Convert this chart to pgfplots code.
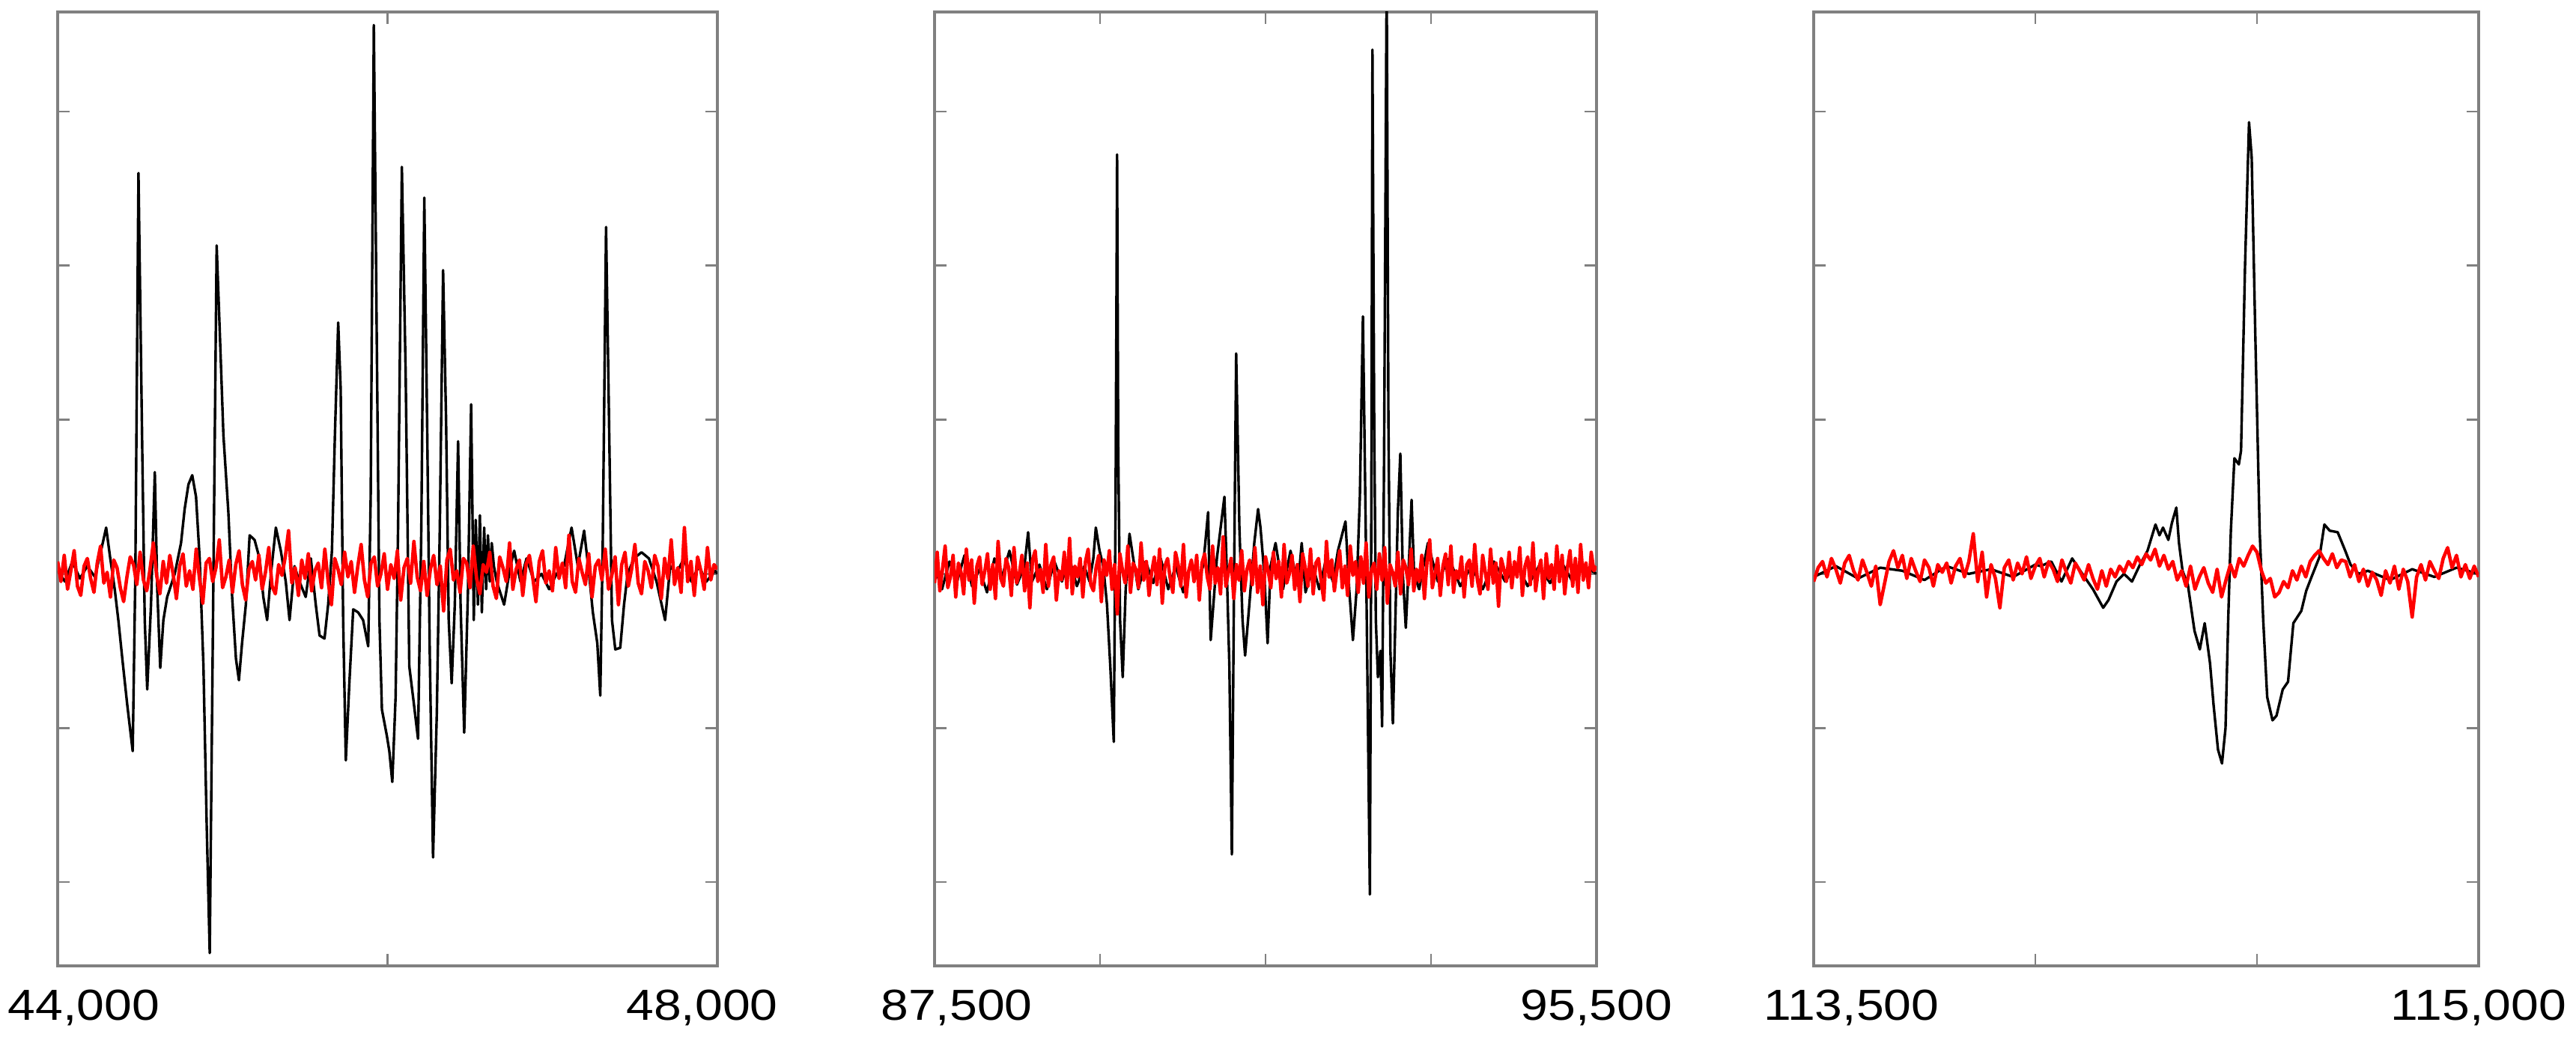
\documentclass[border=0pt]{standalone}
\usepackage{fontspec}
\setmainfont{Liberation Sans}
\usepackage{graphicx}
\usepackage{pgfplots}
\pgfplotsset{compat=1.18}
\definecolor{sigred}{RGB}{255,0,0}
\definecolor{framegray}{RGB}{128,128,128}
\pgfplotsset{
  panel/.style={
    scale only axis,
    width=#1, height=318.5pt,
    anchor=south west,
    ymin=-2.543, ymax=3.645,
    ytick={-2,-1,0,1,2,3},
    yticklabels={},
    xticklabels={},
    scaled x ticks=false,
    tick align=inside,
    major tick length=4pt,
    axis line style={framegray, line width=0.9pt},
    every tick/.style={framegray, line width=0.6pt},
    xticklabel style={font=\fontsize{14.5}{17}\selectfont, anchor=base, yshift=-18.25pt, text=black},
    extra x tick style={major tick length=0pt, tick style={draw=none}},
  },
  blk/.style={black, line width=0.85pt, line join=round},
  rd/.style={sigred, line width=1.15pt, line join=round},
}
\begin{document}
\begin{tikzpicture}
\useasboundingbox (0,0) rectangle (860pt,347.25pt);
% ---------------- Panel 1 ----------------
\begin{axis}[panel=220.25pt, at={(19.25pt,24.75pt)},
  xmin=44000, xmax=48000, xtick={44000,46000,48000},
  extra x ticks={44159,47907},
  extra x tick labels={\scalebox{1.14}[1]{44,000},\scalebox{1.14}[1]{48,000}}]
\addplot[blk] coordinates {(44000,0.02)(44044,-0.05)(44089,0.08)(44135,-0.03)(44180,0.05)(44226,-0.02)(44263,0.15)(44294,0.30)(44319,0.10)(44346,-0.10)(44369,-0.31)(44392,-0.55)(44422,-0.85)(44455,-1.15)(44471,0.00)(44490,2.60)(44513,0.80)(44528,-0.30)(44543,-0.75)(44566,-0.20)(44589,0.66)(44604,-0.10)(44622,-0.61)(44641,-0.30)(44664,-0.15)(44710,0.00)(44748,0.20)(44770,0.42)(44793,0.58)(44816,0.64)(44839,0.50)(44861,0.10)(44884,-0.60)(44903,-1.60)(44922,-2.46)(44940,-0.50)(44964,2.13)(44982,1.60)(45005,0.90)(45035,0.40)(45058,-0.15)(45081,-0.55)(45099,-0.69)(45118,-0.45)(45141,-0.20)(45164,0.25)(45194,0.22)(45224,0.10)(45247,-0.15)(45270,-0.30)(45293,0.00)(45323,0.30)(45353,0.15)(45383,-0.05)(45406,-0.30)(45436,0.05)(45466,-0.05)(45504,-0.15)(45535,0.10)(45565,-0.20)(45588,-0.40)(45618,-0.42)(45640,-0.20)(45663,0.15)(45681,0.90)(45701,1.63)(45716,1.20)(45731,-0.30)(45747,-1.21)(45769,-0.70)(45792,-0.23)(45822,-0.25)(45852,-0.30)(45883,-0.47)(45898,0.50)(45917,3.56)(45935,1.50)(45951,-0.30)(45966,-0.88)(45996,-1.05)(46011,-1.15)(46029,-1.35)(46049,-0.80)(46064,0.30)(46087,2.64)(46110,1.30)(46132,-0.60)(46155,-0.80)(46185,-1.07)(46205,0.30)(46223,2.44)(46241,0.90)(46256,-0.50)(46276,-1.84)(46299,-0.90)(46317,0.30)(46337,1.97)(46355,1.00)(46371,-0.30)(46389,-0.71)(46408,-0.20)(46428,0.86)(46443,-0.20)(46465,-1.03)(46488,-0.10)(46507,1.10)(46523,-0.30)(46535,0.35)(46548,-0.20)(46560,0.38)(46572,-0.25)(46586,0.30)(46598,-0.10)(46609,0.25)(46620,-0.05)(46632,0.20)(46645,0.05)(46662,-0.05)(46707,-0.20)(46745,0.05)(46768,0.15)(46806,-0.05)(46843,0.10)(46889,-0.05)(46934,0.00)(46980,-0.10)(47025,0.00)(47070,0.05)(47116,0.30)(47154,0.05)(47192,0.28)(47222,0.00)(47245,-0.25)(47272,-0.45)(47290,-0.79)(47305,0.20)(47325,2.25)(47343,1.00)(47361,-0.30)(47381,-0.49)(47411,-0.48)(47434,-0.20)(47456,0.00)(47494,0.10)(47540,0.14)(47585,0.10)(47631,-0.05)(47683,-0.30)(47714,0.05)(47751,0.00)(47797,0.10)(47842,-0.05)(47888,0.05)(47933,-0.05)(47986,0.02)(48000,0.00)};
\addplot[rd] coordinates {(44000,0.08)(44020,-0.05)(44040,0.12)(44060,-0.10)(44080,0.02)(44100,0.15)(44120,-0.08)(44140,-0.14)(44160,0.05)(44180,0.10)(44200,-0.03)(44220,-0.12)(44240,0.07)(44260,0.18)(44280,-0.06)(44300,0.01)(44320,-0.15)(44340,0.09)(44360,0.04)(44380,-0.09)
(44400,-0.18)(44420,-0.02)(44440,0.11)(44460,0.06)(44480,-0.07)(44500,0.14)(44520,-0.04)(44540,-0.11)(44560,0.03)(44580,0.20)(44600,-0.01)(44620,-0.13)(44640,0.08)(44660,-0.06)(44680,0.12)(44700,0.00)(44720,-0.16)(44740,0.05)(44760,0.13)(44780,-0.08)
(44800,0.02)(44820,-0.10)(44840,0.16)(44860,-0.03)(44880,-0.19)(44900,0.07)(44920,0.10)(44940,-0.05)(44960,0.04)(44980,0.22)(45000,-0.09)(45020,-0.02)(45040,0.09)(45060,-0.12)(45080,0.06)(45100,0.15)(45120,-0.07)(45140,-0.17)(45160,0.03)(45180,0.08)
(45200,-0.04)(45220,0.12)(45240,-0.10)(45260,0.01)(45280,0.17)(45300,-0.08)(45320,-0.13)(45340,0.06)(45360,-0.01)(45380,0.11)(45400,0.28)(45420,-0.06)(45440,0.04)(45460,-0.14)(45480,0.09)(45500,-0.03)(45520,0.13)(45540,-0.11)(45560,0.02)(45580,0.07)
(45600,-0.09)(45620,0.16)(45640,-0.05)(45660,-0.20)(45680,0.10)(45700,0.03)(45720,-0.07)(45740,0.14)(45760,-0.02)(45780,0.08)(45800,-0.12)(45820,0.05)(45840,0.19)(45860,-0.04)(45880,-0.15)(45900,0.07)(45920,0.11)(45940,-0.08)(45960,0.00)(45980,0.13)
(46000,-0.10)(46020,0.06)(46040,-0.03)(46060,0.15)(46080,-0.17)(46100,0.04)(46120,0.10)(46140,-0.06)(46160,0.21)(46180,-0.02)(46200,-0.11)(46220,0.08)(46240,-0.14)(46260,0.03)(46280,0.12)(46300,-0.07)(46320,0.05)(46340,-0.24)(46360,0.09)(46380,0.16)
(46400,-0.04)(46420,0.02)(46440,-0.12)(46460,0.10)(46480,0.07)(46500,-0.09)(46520,0.18)(46540,-0.03)(46560,-0.13)(46580,0.06)(46600,0.01)(46620,0.14)(46640,-0.08)(46660,-0.16)(46680,0.11)(46700,0.04)(46720,-0.05)(46740,0.20)(46760,-0.10)(46780,0.03)
(46800,0.09)(46820,-0.14)(46840,0.06)(46860,0.12)(46880,-0.02)(46900,-0.18)(46920,0.08)(46940,0.15)(46960,-0.06)(46980,0.02)(47000,-0.11)(47020,0.17)(47040,-0.03)(47060,0.07)(47080,-0.09)(47100,0.25)(47120,-0.05)(47140,-0.12)(47160,0.10)(47180,0.01)
(47200,-0.07)(47220,0.13)(47240,-0.15)(47260,0.05)(47280,0.09)(47300,-0.04)(47320,0.16)(47340,-0.10)(47360,-0.01)(47380,0.11)(47400,-0.20)(47420,0.06)(47440,0.14)(47460,-0.08)(47480,0.03)(47500,0.19)(47520,-0.06)(47540,-0.13)(47560,0.08)(47580,0.02)
(47600,-0.09)(47620,0.12)(47640,0.05)(47660,-0.16)(47680,0.10)(47700,-0.03)(47720,0.22)(47740,-0.07)(47760,0.04)(47780,-0.12)(47800,0.30)(47820,-0.05)(47840,0.08)(47860,-0.14)(47880,0.11)(47900,0.02)(47920,-0.10)(47940,0.17)(47960,-0.04)(47980,0.06)(48000,0.03)};
\end{axis}
% ---------------- Panel 2 ----------------
\begin{axis}[panel=221pt, at={(312pt,24.75pt)},
  xmin=87500, xmax=95500, xtick={89500,91500,93500},
  extra x ticks={87767,95500},
  extra x tick labels={\scalebox{1.14}[1]{87,500},\scalebox{1.14}[1]{95,500}}]
\addplot[blk] coordinates {(87500,0.05)(87590,-0.10)(87681,0.08)(87772,-0.05)(87862,0.12)(87953,-0.08)(88043,0.03)(88134,-0.12)(88224,0.10)(88315,-0.02)(88405,0.15)(88496,-0.07)(88586,0.05)(88631,0.27)(88677,-0.05)(88767,0.06)(88858,-0.10)(88948,0.08)(89039,-0.05)(89129,0.10)(89220,-0.08)(89310,0.05)(89373,-0.05)(89419,0.10)(89449,0.30)(89494,0.15)(89539,0.05)(89584,-0.20)(89624,-0.60)(89666,-1.09)(89688,0.50)(89706,2.72)(89720,0.80)(89742,-0.30)(89774,-0.67)(89810,-0.10)(89856,0.26)(89901,0.10)(89962,-0.10)(90052,0.08)(90143,-0.06)(90233,0.10)(90324,-0.10)(90414,0.05)(90505,-0.12)(90595,0.07)(90686,-0.04)(90746,0.05)(90806,0.40)(90837,-0.43)(90912,0.10)(91003,0.50)(91033,0.00)(91063,-0.60)(91093,-1.82)(91117,-0.20)(91145,1.43)(91184,0.30)(91222,-0.30)(91253,-0.53)(91304,-0.20)(91364,0.20)(91410,0.42)(91439,0.30)(91485,0.00)(91525,-0.45)(91561,0.05)(91621,0.20)(91711,-0.10)(91802,0.15)(91892,-0.08)(91937,0.20)(91983,-0.12)(92073,0.05)(92149,-0.10)(92224,0.08)(92315,-0.05)(92375,0.15)(92466,0.34)(92511,-0.10)(92556,-0.43)(92601,-0.10)(92640,0.50)(92677,1.67)(92713,0.20)(92761,-2.08)(92779,0.50)(92792,3.40)(92813,1.00)(92833,-0.30)(92858,-0.67)(92888,-0.50)(92909,-0.99)(92933,0.80)(92964,3.90)(92985,1.00)(93009,-0.50)(93039,-0.97)(93069,-0.30)(93099,0.40)(93129,0.78)(93159,0.00)(93195,-0.35)(93235,0.10)(93265,0.48)(93295,0.00)(93356,-0.10)(93462,0.20)(93582,-0.05)(93718,0.10)(93853,-0.08)(93989,0.05)(94125,-0.10)(94260,0.08)(94396,-0.05)(94532,0.06)(94668,-0.08)(94803,0.05)(94939,-0.06)(95074,0.08)(95210,-0.05)(95346,0.05)(95500,0.00)};
\addplot[rd] coordinates {(87500,-0.06)(87532,0.14)(87564,-0.11)(87596,0.03)(87628,0.18)(87660,-0.09)(87692,-0.02)(87724,0.12)(87756,-0.15)(87788,0.07)(87820,0.01)(87852,-0.13)(87884,0.16)(87916,-0.04)(87948,0.09)(87980,-0.19)(88012,0.05)(88044,0.11)(88076,-0.07)(88108,0.02)
(88140,0.13)(88172,-0.10)(88204,0.06)(88236,-0.16)(88268,0.21)(88300,-0.03)(88332,-0.08)(88364,0.10)(88396,0.04)(88428,-0.14)(88460,0.17)(88492,-0.06)(88524,0.00)(88556,0.12)(88588,-0.11)(88620,0.07)(88652,-0.22)(88684,0.09)(88716,0.15)(88748,-0.05)
(88780,0.03)(88812,-0.12)(88844,0.19)(88876,-0.08)(88908,0.06)(88940,0.11)(88972,-0.17)(89004,0.02)(89036,-0.04)(89068,0.14)(89100,-0.09)(89132,0.23)(89164,-0.13)(89196,0.05)(89228,-0.02)(89260,0.10)(89292,-0.15)(89324,0.08)(89356,0.16)(89388,-0.07)
(89420,-0.11)(89452,0.04)(89484,0.12)(89516,-0.18)(89548,0.09)(89580,-0.01)(89612,0.15)(89644,-0.10)(89676,0.06)(89708,-0.26)(89740,0.13)(89772,0.02)(89804,-0.06)(89836,0.18)(89868,-0.12)(89900,0.07)(89932,0.03)(89964,-0.09)(89996,0.20)(90028,-0.04)
(90060,0.08)(90092,-0.14)(90124,0.01)(90156,0.11)(90188,-0.07)(90220,0.16)(90252,-0.19)(90284,0.05)(90316,0.10)(90348,-0.03)(90380,-0.12)(90412,0.14)(90444,0.06)(90476,-0.08)(90508,0.19)(90540,-0.15)(90572,0.02)(90604,0.09)(90636,-0.05)(90668,0.12)
(90700,-0.17)(90732,0.07)(90764,0.13)(90796,-0.02)(90828,-0.10)(90860,0.18)(90892,-0.06)(90924,0.04)(90956,-0.13)(90988,0.24)(91020,-0.08)(91052,0.01)(91084,0.10)(91116,-0.16)(91148,0.06)(91180,-0.04)(91212,0.15)(91244,-0.11)(91276,0.03)(91308,0.09)
(91340,-0.07)(91372,0.17)(91404,-0.12)(91436,0.05)(91468,-0.20)(91500,0.11)(91532,0.02)(91564,-0.09)(91596,0.14)(91628,-0.03)(91660,0.08)(91692,-0.15)(91724,0.19)(91756,-0.06)(91788,0.00)(91820,0.12)(91852,-0.10)(91884,0.06)(91916,-0.18)(91948,0.13)
(91980,0.04)(92012,-0.08)(92044,0.16)(92076,-0.13)(92108,0.07)(92140,0.10)(92172,-0.05)(92204,-0.17)(92236,0.21)(92268,-0.02)(92300,0.09)(92332,-0.11)(92364,0.03)(92396,0.15)(92428,-0.09)(92460,0.05)(92492,-0.14)(92524,0.18)(92556,-0.01)(92588,0.08)
(92620,-0.12)(92652,0.11)(92684,-0.06)(92716,0.20)(92748,-0.15)(92780,0.02)(92812,0.07)(92844,-0.10)(92876,0.13)(92908,-0.04)(92940,0.17)(92972,-0.19)(93004,0.06)(93036,0.01)(93068,-0.08)(93100,0.14)(93132,-0.13)(93164,0.09)(93196,0.04)(93228,-0.07)
(93260,0.16)(93292,-0.11)(93324,0.03)(93356,-0.05)(93388,0.12)(93420,-0.16)(93452,0.08)(93484,0.22)(93516,-0.09)(93548,0.00)(93580,0.10)(93612,-0.14)(93644,0.05)(93676,0.13)(93708,-0.07)(93740,0.18)(93772,-0.12)(93804,0.02)(93836,-0.03)(93868,0.11)
(93900,-0.15)(93932,0.06)(93964,0.09)(93996,-0.08)(94028,0.19)(94060,-0.04)(94092,-0.13)(94124,0.12)(94156,0.01)(94188,-0.10)(94220,0.16)(94252,-0.06)(94284,0.07)(94316,-0.21)(94348,0.10)(94380,0.03)(94412,-0.05)(94444,0.14)(94476,-0.09)(94508,0.08)
(94540,-0.02)(94572,0.17)(94604,-0.14)(94636,0.05)(94668,0.11)(94700,-0.07)(94732,0.20)(94764,-0.11)(94796,0.02)(94828,0.09)(94860,-0.16)(94892,0.13)(94924,-0.03)(94956,0.06)(94988,-0.10)(95020,0.18)(95052,-0.05)(95084,0.12)(95116,-0.13)(95148,0.04)
(95180,0.15)(95212,-0.08)(95244,0.10)(95276,-0.12)(95308,0.19)(95340,-0.04)(95372,0.07)(95404,-0.09)(95436,0.14)(95468,0.02)(95500,0.05)};
\end{axis}
% ---------------- Panel 3 ----------------
\begin{axis}[panel=222pt, at={(605.5pt,24.75pt)},
  xmin=113500, xmax=115000, xtick={114000,114500},
  extra x ticks={113585,115000},
  extra x tick labels={\scalebox{1.14}[1]{113,500},\scalebox{1.14}[1]{115,000}}]
\addplot[blk] coordinates {(113500,-0.02)(113550,0.05)(113600,-0.03)(113650,0.04)(113700,0.02)(113750,-0.04)(113800,0.05)(113850,0.00)(113900,0.03)(113950,-0.02)(114000,0.06)(114012,0.05)(114036,0.08)(114059,-0.05)(114083,0.10)(114106,0.00)(114130,-0.10)(114153,-0.22)(114165,-0.17)(114183,-0.05)(114200,0.00)(114218,-0.05)(114236,0.06)(114253,0.15)(114271,0.32)(114280,0.25)(114288,0.30)(114300,0.22)(114308,0.33)(114318,0.43)(114324,0.20)(114332,0.02)(114344,-0.07)(114359,-0.37)(114371,-0.49)(114382,-0.32)(114394,-0.58)(114402,-0.85)(114412,-1.14)(114421,-1.23)(114429,-1.00)(114435,-0.30)(114441,0.28)(114449,0.75)(114459,0.71)(114464,0.80)(114473,2.00)(114482,2.93)(114488,2.70)(114496,1.57)(114506,0.28)(114514,-0.30)(114523,-0.80)(114535,-0.95)(114544,-0.92)(114558,-0.75)(114570,-0.70)(114582,-0.32)(114600,-0.24)(114611,-0.11)(114623,-0.02)(114641,0.11)(114652,0.32)(114664,0.28)(114682,0.27)(114699,0.15)(114711,0.06)(114729,0.00)(114750,0.02)(114800,-0.04)(114850,0.03)(114900,-0.02)(114950,0.04)(115000,0.00)};
\addplot[rd] coordinates {(113500,-0.05)(113510,0.04)(113520,0.08)(113530,-0.02)(113540,0.10)(113550,0.03)(113560,-0.06)(113570,0.07)(113580,0.12)(113590,0.02)
(113600,-0.04)(113610,0.09)(113620,0.01)(113630,-0.08)(113640,0.05)(113650,-0.20)(113660,-0.06)(113670,0.08)(113680,0.15)(113690,0.04)
(113700,0.12)(113710,-0.03)(113720,0.10)(113730,0.02)(113740,-0.05)(113750,0.09)(113760,0.04)(113770,-0.08)(113780,0.06)(113790,0.01)
(113800,0.07)(113810,-0.06)(113820,0.05)(113830,0.10)(113840,-0.02)(113850,0.08)(113860,0.26)(113870,-0.05)(113880,0.14)(113890,-0.15)
(113900,0.06)(113910,-0.03)(113920,-0.22)(113930,0.04)(113940,0.09)(113950,-0.04)(113960,0.07)(113970,0.00)(113980,0.11)(113990,-0.03)
(114000,0.05)(114010,0.10)(114020,-0.02)(114030,0.08)(114040,0.03)(114050,-0.05)(114060,0.09)(114070,0.01)(114080,-0.06)(114090,0.07)
(114100,0.02)(114110,-0.04)(114120,0.06)(114130,-0.03)(114140,-0.10)(114150,0.02)(114160,-0.08)(114170,0.03)(114180,-0.02)(114190,0.05)
(114200,0.01)(114210,0.08)(114220,0.04)(114230,0.11)(114240,0.06)(114250,0.13)(114260,0.09)(114270,0.16)(114280,0.05)(114290,0.12)
(114300,0.03)(114310,0.08)(114320,-0.04)(114330,0.02)(114340,-0.08)(114350,0.05)(114360,-0.10)(114370,-0.02)(114380,0.04)(114390,-0.06)
(114400,-0.12)(114410,0.03)(114420,-0.15)(114430,-0.04)(114440,0.06)(114450,-0.02)(114460,0.10)(114470,0.05)(114480,0.12)(114490,0.18)
(114500,0.14)(114510,0.02)(114520,-0.06)(114530,-0.03)(114540,-0.15)(114550,-0.12)(114560,-0.05)(114570,-0.09)(114580,0.02)(114590,-0.04)
(114600,0.05)(114610,-0.02)(114620,0.08)(114630,0.12)(114640,0.15)(114650,0.10)(114660,0.06)(114670,0.13)(114680,0.04)(114690,0.09)
(114700,0.08)(114710,-0.02)(114720,0.06)(114730,-0.05)(114740,0.03)(114750,-0.08)(114760,0.01)(114770,-0.04)(114780,-0.14)(114790,0.02)
(114800,-0.06)(114810,0.05)(114820,-0.10)(114830,0.03)(114840,-0.05)(114850,-0.28)(114860,-0.02)(114870,0.06)(114880,-0.04)(114890,0.08)
(114900,0.02)(114910,-0.03)(114920,0.10)(114930,0.17)(114940,0.04)(114950,0.12)(114960,-0.02)(114970,0.06)(114980,-0.03)(114990,0.05)(115000,-0.02)};
\end{axis}
\end{tikzpicture}
\end{document}
